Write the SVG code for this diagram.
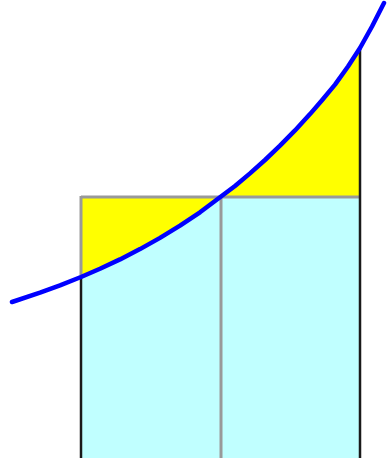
<svg xmlns="http://www.w3.org/2000/svg" width="387" height="458" viewBox="0 0 387 458">
<style>
.gray{stroke:#999999;stroke-width:3;fill:none}
.black{stroke:#1a1a1a;stroke-width:2.5;fill:none}
.curve{stroke:#0000ff;stroke-width:4.5;fill:none;stroke-linecap:round;stroke-linejoin:round}
</style>
<g id="cyan-area">
<polygon fill="#c0ffff" points="81,277 100,268.8 120,259.4 140,249.1 160,237.9 180,225.7 200,212.3 221,197 360,197 360,458 81,458"/>
</g>
<g id="yellow-area">
<polygon fill="#ffff00" points="81,277 100,268.8 120,259.4 140,249.1 160,237.9 180,225.7 200,212.3 221,197 235,186 250,173.4 265,160 280,145.7 295,130.4 310,114.1 322,100.2 335,84.6 348,66.5 360,48 360,197 81,197"/>
</g>
<g id="rect-lines">
<line class="gray" x1="81" y1="197" x2="360" y2="197"/>
<line class="gray" x1="221" y1="197" x2="221" y2="458"/>
<line class="gray" x1="81" y1="196" x2="81" y2="277"/>
<line class="black" x1="81" y1="277" x2="81" y2="458"/>
<line class="black" x1="360" y1="48" x2="360" y2="458"/>
</g>
<g id="curve">
<polyline class="curve" points="12,302 40,292.6 60,285.3 81,277 100,268.8 120,259.4 140,249.1 160,237.9 180,225.7 200,212.3 221,196.5 235,186 250,173.4 265,160 280,145.7 295,130.4 310,114.1 322,100.2 335,84.6 348,66.5 360,48 372,26.5 384,3"/>
</g>
</svg>
